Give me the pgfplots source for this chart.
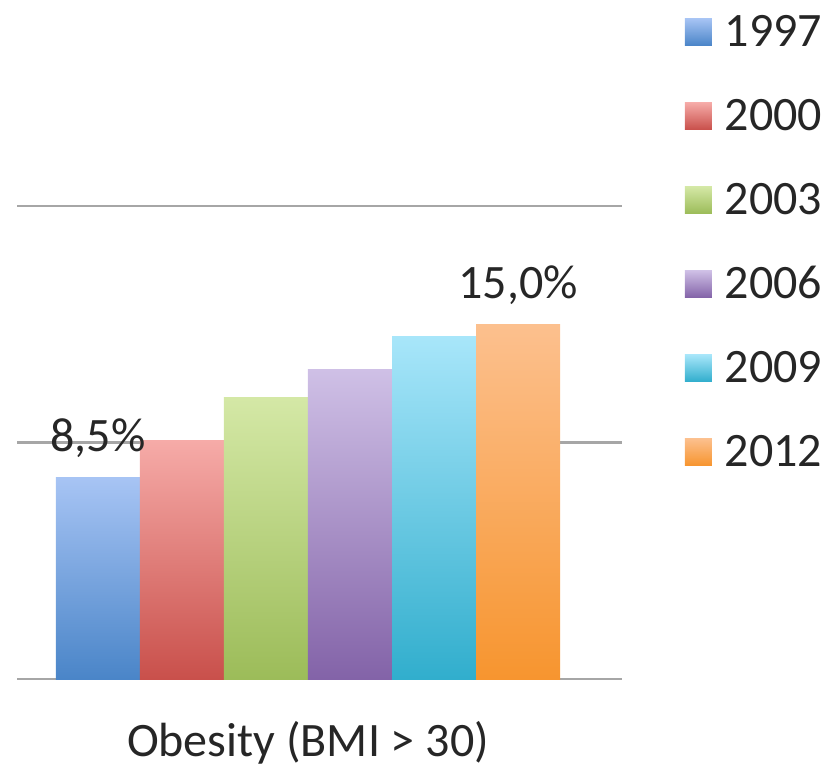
\documentclass[border=0pt]{standalone}
\usepackage{fontspec}
\setmainfont{Carlito}
\usepackage{pgfplots}
\pgfplotsset{compat=1.18}
\definecolor{c1}{HTML}{4A85C8}\definecolor{c1t}{HTML}{A7C4F4}
\definecolor{c2}{HTML}{C9504B}\definecolor{c2t}{HTML}{F6ABA8}
\definecolor{c3}{HTML}{9CBC59}\definecolor{c3t}{HTML}{D4E8A6}
\definecolor{c4}{HTML}{8363A8}\definecolor{c4t}{HTML}{CFC0E6}
\definecolor{c5}{HTML}{31AECD}\definecolor{c5t}{HTML}{A8E6FA}
\definecolor{c6}{HTML}{F7952F}\definecolor{c6t}{HTML}{FCC08E}
\newcommand{\bigf}{\fontsize{48}{58}\selectfont}
\pgfplotsset{sqlegend/.style={legend image code/.code={\fill[##1] (0pt,1.5pt) rectangle (27pt,28.5pt);}}}
\begin{document}
\begin{tikzpicture}
\begin{axis}[name=ax, scale only axis, width=605pt, height=473pt,
  xmin=-0.964, xmax=6.238, ymin=0, ymax=20,
  ybar, bar width=1,
  ytick={0,10,20}, yticklabels={},
  ymajorgrids, grid style={draw=gray!70, line width=2.5pt},
  xtick={2.5}, xticklabels={Obesity (BMI > 30)},
  major tick length=0pt, axis line style={draw=none},
  xticklabel style={anchor=base, yshift=-77pt, inner sep=0pt, font=\bigf, text=black!85},
  clip=false,
  every node near coord/.append style={anchor=base, yshift=26pt, inner sep=0pt, font=\bigf, text=black!85},
  legend style={at={(axis description cs:1.104,1.3996)}, anchor=north west,
    draw=none, fill=none, inner sep=0pt, outer sep=0pt,
    row sep=54pt, column sep=13pt, font=\bigf, text=black!85,
    nodes={inner sep=0pt, text height=30pt, text depth=0pt, anchor=base west}},
  legend cell align=left,
  sqlegend,
]
\addplot[bar shift=0pt, draw=none, top color=c1t, bottom color=c1, nodes near coords={8,5\%}] coordinates {(0,8.5)};
\addlegendentry{1997}
\addplot[bar shift=0pt, draw=none, top color=c2t, bottom color=c2] coordinates {(1,10.1)};
\addlegendentry{2000}
\addplot[bar shift=0pt, draw=none, top color=c3t, bottom color=c3] coordinates {(2,11.9)};
\addlegendentry{2003}
\addplot[bar shift=0pt, draw=none, top color=c4t, bottom color=c4] coordinates {(3,13.1)};
\addlegendentry{2006}
\addplot[bar shift=0pt, draw=none, top color=c5t, bottom color=c5] coordinates {(4,14.5)};
\addlegendentry{2009}
\addplot[bar shift=0pt, draw=none, top color=c6t, bottom color=c6, nodes near coords={15,0\%}] coordinates {(5,15.0)};
\addlegendentry{2012}
\end{axis}
\path (ax.south west) ++(-17pt,-90pt) rectangle ++(829pt,769pt);
\end{tikzpicture}
\end{document}
